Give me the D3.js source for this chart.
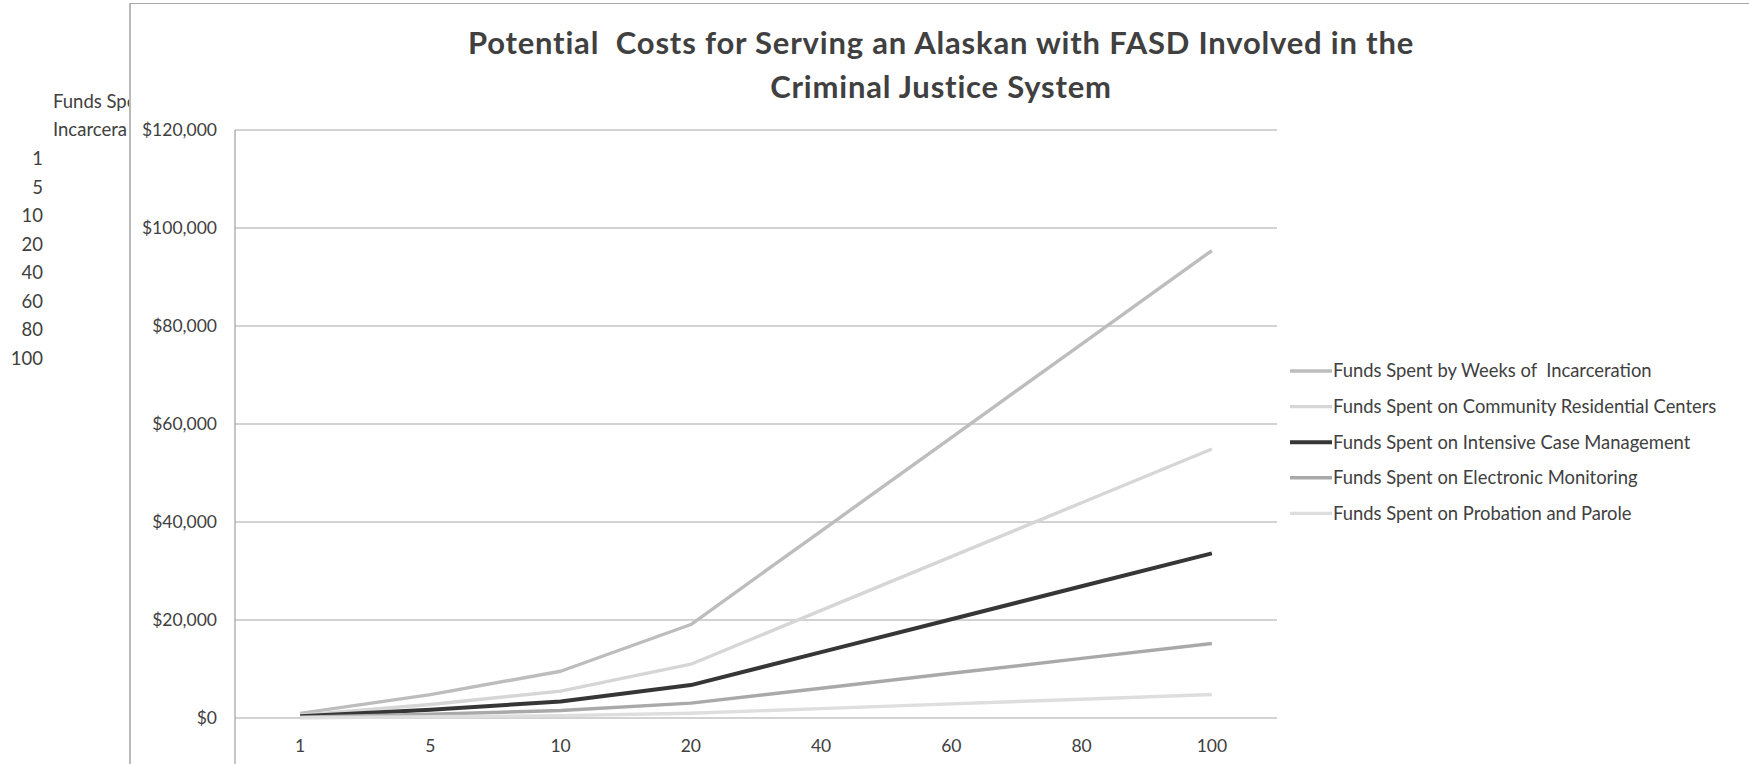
<!DOCTYPE html>
<html><head><meta charset="utf-8">
<script src="https://cdn.jsdelivr.net/npm/d3@7"></script>
<style>html,body{margin:0;padding:0;background:#fff;}svg{display:block;}</style>
</head><body>
<svg id="chart" width="1749" height="764"></svg>
<script>
const weeks = ["1","5","10","20","40","60","80","100"];
const seriesNames = [
  "Funds Spent by Weeks of  Incarceration",
  "Funds Spent on Community Residential Centers",
  "Funds Spent on Intensive Case Management",
  "Funds Spent on Electronic Monitoring",
  "Funds Spent on Probation and Parole"
];
const incarceration = [954, 4770, 9540, 19080, 38160, 57240, 76320, 95400];
const community = [549, 2745, 5490, 10980, 21960, 32940, 43920, 54900];
const intensive = [336, 1680, 3360, 6720, 13440, 20160, 26880, 33600];
const electronic = [152, 760, 1520, 3040, 6080, 9120, 12160, 15200];
const probation = [48, 240, 480, 960, 1920, 2880, 3840, 4800];
const yTicks = [0, 20000, 40000, 60000, 80000, 100000, 120000];
const titleLines = ["Potential  Costs for Serving an Alaskan with FASD Involved in the", "Criminal Justice System"];
// visible (cut-off) part of the spreadsheet column header at the left edge
const sideHeader = ["Funds Spe", "Incarcera"];

const allSeries = [incarceration, community, intensive, electronic, probation];
const colors = ["#bdbdbd", "#d6d6d6", "#363636", "#a9a9a9", "#dedede"];
const widths = [3.4, 3.4, 4, 3.4, 3.4];

const svg = d3.select("#chart");
const font = "Lato, 'Open Sans', sans-serif";

// outer frame
svg.append("line").attr("x1",130).attr("x2",130).attr("y1",3).attr("y2",764).attr("stroke","#8a8a8a").attr("stroke-width",1.2);
svg.append("line").attr("x1",130).attr("x2",1749).attr("y1",3.5).attr("y2",3.5).attr("stroke","#a8a8a8").attr("stroke-width",1.2);

// side table (clipped)
svg.append("clipPath").attr("id","sideclip").append("rect").attr("x",0).attr("y",0).attr("width",129).attr("height",764);
const side = svg.append("g").attr("clip-path","url(#sideclip)").style("font-family",font).style("font-size","18.5px").attr("fill","#404040");
sideHeader.forEach((t,i)=> side.append("text").attr("x",53).attr("y",108 + i*28).text(t));
side.selectAll("text.num").data(weeks).enter().append("text").attr("class","num")
  .attr("x",43).attr("y",(d,i)=>165 + i*28.5).attr("text-anchor","end").text(d=>d);

const x = d3.scaleBand().domain(weeks).range([235, 1277]);
const y = d3.scaleLinear().domain([0,120000]).range([718,130]);

// gridlines
svg.append("g").selectAll("line").data(yTicks).enter().append("line")
  .attr("x1",235).attr("x2",1277).attr("y1",d=>y(d)).attr("y2",d=>y(d))
  .attr("stroke","#a6a6a6").attr("stroke-width",1.1);
// y axis line
svg.append("line").attr("x1",235).attr("x2",235).attr("y1",y(120000)).attr("y2",764).attr("stroke","#a0a0a0").attr("stroke-width",1.2);

// y tick labels
const fmt = d3.format("$,");
const yAxis = d3.axisLeft(y).tickValues(yTicks).tickFormat(fmt).tickSize(0).tickPadding(0);
const gy = svg.append("g").attr("transform","translate(217,0)").call(yAxis);
gy.select(".domain").remove();
gy.selectAll("text").style("font-family",font).style("font-size","17.5px").attr("fill","#404040");

// x tick labels
const xAxis = d3.axisBottom(x).tickSize(0).tickPadding(0);
const gx = svg.append("g").attr("transform","translate(0,740)").call(xAxis);
gx.select(".domain").remove();
gx.selectAll("text").style("font-family",font).style("font-size","17.5px").attr("fill","#404040");

// lines
const line = d3.line().x((d,i)=>x(weeks[i]) + x.bandwidth()/2).y(d=>y(d));
allSeries.forEach((s,k)=>{
  svg.append("path").datum(s).attr("d",line).attr("fill","none")
    .attr("stroke",colors[k]).attr("stroke-width",widths[k]).attr("stroke-linejoin","round");
});

// legend
const lg = svg.append("g").style("font-family",font).style("font-size","18.4px");
seriesNames.forEach((n,k)=>{
  const yy = 371 + k*35.6;
  lg.append("line").attr("x1",1290).attr("x2",1332).attr("y1",yy).attr("y2",yy).attr("stroke",colors[k]).attr("stroke-width",widths[k]);
  lg.append("text").attr("x",1333).attr("y",yy).attr("dy","0.35em").attr("fill","#404040").style("white-space","pre").text(n);
});

// title
const tg = svg.append("g").style("font-family",font).style("font-weight","bold").style("font-size","31px").style("letter-spacing","0.8px").attr("fill","#404040").attr("text-anchor","middle");
titleLines.forEach((t,i)=> tg.append("text").attr("x",941).attr("y",54 + i*44).style("white-space","pre").text(t));
</script>
</body></html>
